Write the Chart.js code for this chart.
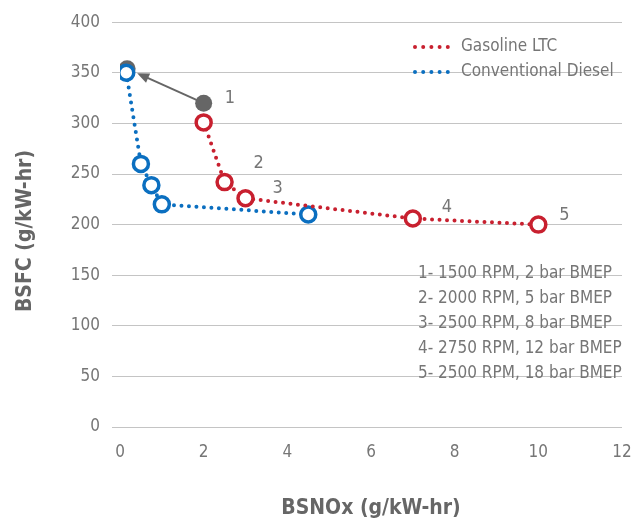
<!DOCTYPE html>
<html>
<head>
<meta charset="utf-8">
<script src="https://cdn.jsdelivr.net/npm/chart.js@4.4.1/dist/chart.umd.min.js"></script>
<style>
  html, body { margin: 0; padding: 0; background: #ffffff; }
  #wrap { width: 634px; height: 522px; position: relative; }
</style>
</head>
<body>
<div id="wrap"><canvas id="c" width="634" height="522"></canvas></div>
<script>
// BSNOx (g/kW-hr) vs BSFC (g/kW-hr)
const gasolineNox = [2.0, 2.5, 3.0, 7.0, 10.0];
const gasolineBsfc = [301, 242, 226, 206, 200];

const dieselNox = [0.15, 0.5, 0.75, 1.0, 4.5];
const dieselBsfc = [350, 260, 239, 220, 210];

// grey shift: from operating point 1 toward the diesel point
const shiftNox = [0.17, 2.0];
const shiftBsfc = [354, 320];

const pointNumbers = ['1', '2', '3', '4', '5'];
const conditionNotes = [
  '1- 1500 RPM, 2 bar BMEP',
  '2- 2000 RPM, 5 bar BMEP',
  '3- 2500 RPM, 8 bar BMEP',
  '4- 2750 RPM, 12 bar BMEP',
  '5- 2500 RPM, 18 bar BMEP'
];
const seriesNames = ['Gasoline LTC', 'Conventional Diesel'];
const xTicks = [0, 2, 4, 6, 8, 10, 12];
const yTicks = [0, 50, 100, 150, 200, 250, 300, 350, 400];
const yTitle = 'BSFC (g/kW-hr)';
const xTitle = 'BSNOx (g/kW-hr)';

const RED = '#c8202f';
const BLUE = '#0b6fc0';
const GREY = '#666666';
const TEXT = '#767676';
const FONT = "'DejaVu Sans Condensed', 'Roboto', 'Liberation Sans', sans-serif";

const toPts = (xs, ys) => xs.map((x, i) => ({ x: x, y: ys[i] }));

// numbers beside points: [dataset index, point index, dx, dy]
const numberSpots = [[2, 1, 21, -5], [0, 1, 29, -19], [0, 2, 27, -10], [0, 3, 29, -11], [0, 4, 21, -9]];

const decorations = {
  id: 'decorations',
  beforeDatasetsDraw(chart) {
    const ctx = chart.ctx;
    const m = chart.getDatasetMeta(2).data;
    const a = m[1], b = m[0];
    const dx = b.x - a.x, dy = b.y - a.y;
    const len = Math.hypot(dx, dy);
    const ux = dx / len, uy = dy / len;
    const tipX = b.x - ux * 11, tipY = b.y - uy * 11;
    const head = 12, wing = 5;
    ctx.save();
    ctx.strokeStyle = GREY;
    ctx.fillStyle = GREY;
    ctx.lineWidth = 2;
    ctx.beginPath();
    ctx.moveTo(a.x, a.y);
    ctx.lineTo(tipX - ux * head * 0.8, tipY - uy * head * 0.8);
    ctx.stroke();
    ctx.beginPath();
    ctx.moveTo(tipX, tipY);
    ctx.lineTo(tipX - ux * head - uy * wing, tipY - uy * head + ux * wing);
    ctx.lineTo(tipX - ux * head + uy * wing, tipY - uy * head - ux * wing);
    ctx.closePath();
    ctx.fill();
    ctx.restore();
  },
  afterDatasetsDraw(chart) {
    const ctx = chart.ctx;
    ctx.save();
    ctx.fillStyle = TEXT;
    ctx.font = '18px ' + FONT;
    ctx.textBaseline = 'middle';
    ctx.textAlign = 'left';
    numberSpots.forEach((s, i) => {
      const p = chart.getDatasetMeta(s[0]).data[s[1]];
      ctx.fillText(pointNumbers[i], p.x + s[2], p.y + s[3]);
    });

    // legend
    const colors = [RED, BLUE];
    seriesNames.forEach((name, i) => {
      const y = 47 + i * 25;
      ctx.fillStyle = colors[i];
      for (let k = 0; k < 5; k++) {
        ctx.beginPath();
        ctx.arc(415 + k * 8.2, y, 2, 0, Math.PI * 2);
        ctx.fill();
      }
      ctx.fillStyle = TEXT;
      ctx.font = '17px ' + FONT;
      ctx.fillText(name, 461, y);
    });

    // operating condition notes
    ctx.fillStyle = TEXT;
    ctx.font = '17px ' + FONT;
    conditionNotes.forEach((t, i) => ctx.fillText(t, 418, 274 + i * 25));

    // vertical axis title
    ctx.fillStyle = '#666666';
    ctx.font = 'bold 21px ' + FONT;
    ctx.textAlign = 'center';
    ctx.translate(26, 231);
    ctx.rotate(-Math.PI / 2);
    ctx.fillText(yTitle, 0, 0);
    ctx.restore();
  }
};

const lineDs = (label, data, color) => ({
  label: label,
  data: data,
  showLine: true,
  borderColor: color,
  borderWidth: 4,
  borderDash: [0, 7.5],
  borderCapStyle: 'round',
  pointRadius: 7.5,
  pointHoverRadius: 7.5,
  pointBorderWidth: 3.5,
  pointBackgroundColor: '#ffffff',
  pointBorderColor: color,
  tension: 0
});

new Chart(document.getElementById('c'), {
  type: 'scatter',
  data: {
    datasets: [
      lineDs(seriesNames[0], toPts(gasolineNox, gasolineBsfc), RED),
      lineDs(seriesNames[1], toPts(dieselNox, dieselBsfc), BLUE),
      {
        label: 'shift',
        data: toPts(shiftNox, shiftBsfc),
        showLine: false,
        pointRadius: 8.5,
        pointHoverRadius: 8.5,
        pointBorderWidth: 0,
        pointBackgroundColor: GREY,
        pointBorderColor: GREY
      }
    ]
  },
  options: {
    responsive: false,
    animation: false,
    devicePixelRatio: 1,
    layout: { padding: { left: 0, right: 12, top: 20, bottom: 0 } },
    plugins: { legend: { display: false }, tooltip: { enabled: false } },
    scales: {
      x: {
        type: 'linear',
        min: 0,
        max: 12,
        afterBuildTicks(s) { s.ticks = xTicks.map(v => ({ value: v })); },
        afterFit(s) { s.height = 95; },
        grid: { display: false, drawTicks: true, tickLength: 13 },
        border: { display: false },
        ticks: { color: TEXT, font: { family: FONT, size: 17 }, padding: 2 },
        title: {
          display: true,
          text: xTitle,
          color: '#666666',
          font: { family: FONT, size: 21, weight: 'bold' },
          padding: { top: 0, bottom: 1 }
        }
      },
      y: {
        type: 'linear',
        min: 0,
        max: 400,
        afterBuildTicks(s) { s.ticks = yTicks.map(v => ({ value: v })); },
        afterFit(s) { s.width = 120; },
        grid: { color: '#c4c4c4', lineWidth: 1, drawTicks: true, tickLength: 8 },
        border: { display: false },
        ticks: { color: TEXT, font: { family: FONT, size: 17 }, padding: 12 },
        title: { display: false }
      }
    }
  },
  plugins: [decorations]
});
</script>
</body>
</html>
